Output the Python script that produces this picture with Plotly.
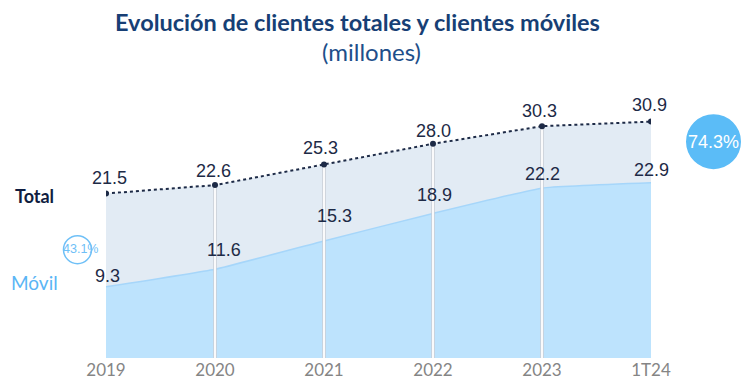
import plotly.graph_objects as go

categories = ["2019", "2020", "2021", "2022", "2023", "1T24"]
total_clients = [21.5, 22.6, 25.3, 28.0, 30.3, 30.9]
mobile_clients = [9.3, 11.6, 15.3, 18.9, 22.2, 22.9]
mobile_share_2019 = "43.1%"
mobile_share_1t24 = "74.3%"

# label offsets (pixels) - styling only
total_xshift = [3, -2, -4, 0, -3, -2]
total_yshift = [16, 14, 16, 13, 15, 16.5]
mobile_xshift = [1, 9, 10, 1, 0, 0]
mobile_yshift = [10.5, 19, 25, 18, 14, 13]

NAVY = "#1d2a46"
TITLE = "#173f75"
fig = go.Figure()

fig.add_trace(go.Scatter(x=categories, y=total_clients, mode="lines", fill="tozeroy",
                         fillcolor="#e2ebf4", line=dict(width=0, color="#e2ebf4"),
                         hoverinfo="skip", showlegend=False))
fig.add_trace(go.Scatter(x=categories, y=mobile_clients, mode="lines", fill="tozeroy",
                         fillcolor="#bde3fd", line=dict(width=1.5, color="#a6d6fa", shape="spline", smoothing=0.35),
                         hoverinfo="skip", showlegend=False))
for c, t in zip(categories[1:-1], total_clients[1:-1]):
    fig.add_trace(go.Scatter(x=[c, c], y=[0, t], mode="lines", line=dict(color="#c9ced6", width=3.5),
                             hoverinfo="skip", showlegend=False))
    fig.add_trace(go.Scatter(x=[c, c], y=[0, t], mode="lines", line=dict(color="#ffffff", width=1.8),
                             hoverinfo="skip", showlegend=False))
fig.add_trace(go.Scatter(x=categories, y=total_clients, mode="lines+markers",
                         line=dict(color=NAVY, width=2, dash="dot"),
                         marker=dict(color=NAVY, size=6),
                         hoverinfo="skip", showlegend=False))

for i, v in enumerate(total_clients):
    fig.add_annotation(x=i, y=v, text=f"{v:.1f}", showarrow=False, xanchor="center", yanchor="middle",
                       xshift=total_xshift[i], yshift=total_yshift[i],
                       font=dict(family="Liberation Sans", size=18, color=NAVY))
for i, v in enumerate(mobile_clients):
    fig.add_annotation(x=i, y=v, text=f"{v:.1f}", showarrow=False, xanchor="center", yanchor="middle",
                       xshift=mobile_xshift[i], yshift=mobile_yshift[i],
                       font=dict(family="Liberation Sans", size=18, color=NAVY))

fig.add_annotation(xref="paper", yref="paper", x=-0.1321, y=0.531, text="<b>Total</b>", showarrow=False,
                   xanchor="center", yanchor="middle", font=dict(family="Lato", size=18, color="#0f1d40"))
fig.add_annotation(xref="paper", yref="paper", x=-0.1312, y=0.246, text="Móvil", showarrow=False,
                   xanchor="center", yanchor="middle", font=dict(family="Lato", size=19, color="#5ab5f5"))

fig.add_shape(type="circle", xref="paper", yref="paper", xsizemode="pixel", ysizemode="pixel",
              xanchor=-0.0523, yanchor=0.354, x0=-14, x1=14, y0=-14, y1=14,
              line=dict(color="#6fc0f7", width=1.5), fillcolor="rgba(0,0,0,0)")
fig.add_annotation(xref="paper", yref="paper", x=-0.0459, y=0.356, text=mobile_share_2019, showarrow=False,
                   xanchor="center", yanchor="middle", font=dict(family="Liberation Sans", size=12.5, color="#6fc0f7"))
fig.add_shape(type="circle", xref="paper", yref="paper", xsizemode="pixel", ysizemode="pixel",
              xanchor=1.1147, yanchor=0.7071, x0=-27.5, x1=27.5, y0=-27.5, y1=27.5,
              line=dict(color="#5bbcf7", width=0), fillcolor="#5bbcf7")
fig.add_annotation(xref="paper", yref="paper", x=1.1147, y=0.7071, text=mobile_share_1t24, showarrow=False,
                   xanchor="center", yanchor="middle", font=dict(family="Liberation Sans", size=18, color="#ffffff"))

fig.add_annotation(xref="paper", yref="paper", x=(357 - 106) / 545, y=(361 - 21.5) / 309, yanchor="middle",
                   xanchor="center", text="<b>Evolución de clientes totales y clientes móviles</b>", showarrow=False,
                   font=dict(family="Lato", size=23.5, color=TITLE))
fig.add_annotation(xref="paper", yref="paper", x=(371 - 106) / 545, y=(361 - 51) / 309, yanchor="middle",
                   xanchor="center", text="(millones)", showarrow=False,
                   font=dict(family="Lato", size=24, color="#1e4f8a"))

fig.update_layout(
    width=751, height=384, autosize=False,
    margin=dict(l=98, r=108, t=44, b=31),
    paper_bgcolor="white", plot_bgcolor="white",
    xaxis=dict(type="category", range=[0, 5], showgrid=False, zeroline=False, showline=False,
               ticks="", tickfont=dict(family="Lato", size=17, color="#858585")),
    yaxis=dict(range=[0, 40], visible=False),
)
fig.write_html("out.html", config={"displayModeBar": False, "staticPlot": True})
